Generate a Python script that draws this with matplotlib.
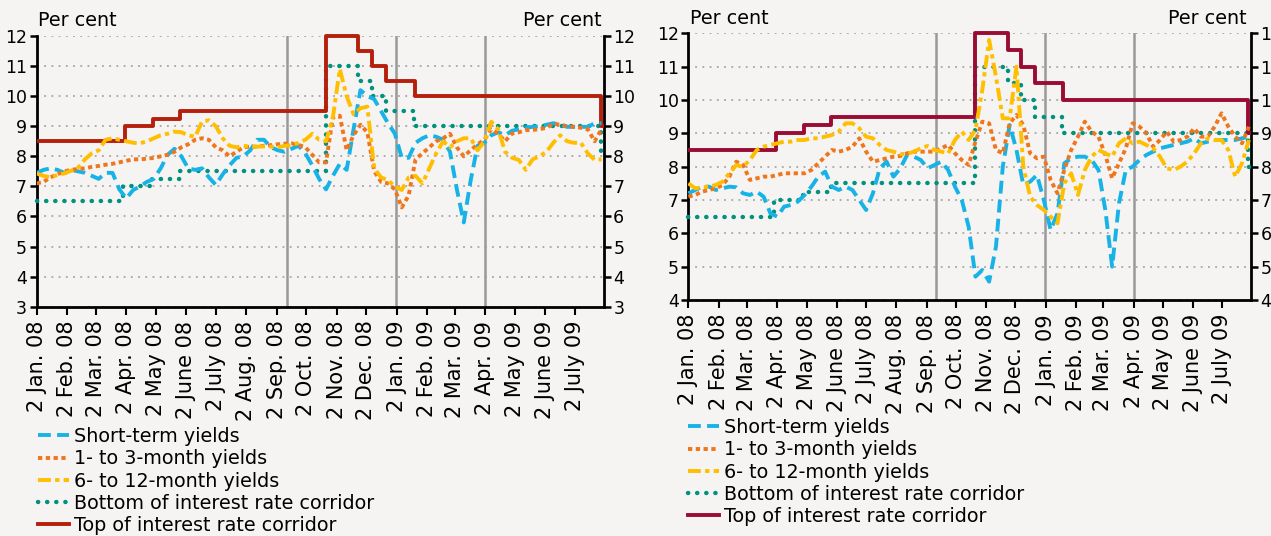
import matplotlib
matplotlib.use('Agg')
import matplotlib.pyplot as plt
import pandas as pd
from matplotlib.lines import Line2D

plt.rcParams['font.family'] = ['DejaVu Sans']

# ---------------- data ----------------
week_dates = pd.date_range('2008-01-02', periods=83, freq='7D')

left_short = [7.45, 7.55, 7.6, 7.55, 7.45, 7.55, 7.5, 7.45, 7.35, 7.25,
              7.45, 7.45, 6.9, 6.6, 6.88, 7.0, 7.15, 7.25, 7.6, 8.05,
              8.25, 8.0, 7.6, 7.55, 7.6, 7.3, 7.05, 7.4, 7.7, 7.95,
              8.0, 8.2, 8.55, 8.55, 8.3, 8.2, 8.15, 8.25, 8.35, 8.1,
              7.7, 7.25, 6.9, 7.35, 7.75, 7.55, 8.9, 10.2, 10.0, 9.9,
              9.5, 9.1, 8.75, 7.95, 7.95, 8.45, 8.6, 8.7, 8.65, 8.55,
              8.15, 6.9, 5.8, 7.2, 8.35, 8.45, 8.7, 8.8, 8.7, 8.85,
              8.9, 8.95, 8.98, 9.0, 9.05, 9.1, 9.05, 8.98, 8.98, 8.98,
              8.98, 9.1, 9.1]
left_mid = [7.1, 7.15, 7.3, 7.4, 7.5, 7.55, 7.58, 7.6, 7.65, 7.68,
            7.72, 7.75, 7.8, 7.85, 7.9, 7.9, 7.92, 7.95, 8.0, 8.05,
            8.15, 8.3, 8.4, 8.55, 8.6, 8.55, 8.3, 8.2, 8.0, 8.15,
            8.3, 8.32, 8.32, 8.35, 8.37, 8.4, 8.42, 8.43, 8.38, 8.3,
            8.05, 7.8, 7.8, 9.3, 9.35, 8.2, 8.7, 9.05, 8.8, 7.5,
            7.15, 7.1, 6.9, 6.3, 6.7, 7.9, 8.1, 8.3, 8.5, 8.6,
            8.75, 8.3, 8.0, 8.2, 8.4, 8.55, 8.9, 8.75, 8.5, 8.76,
            8.8, 8.87, 8.88, 8.9, 8.95, 9.08, 9.05, 9.0, 8.98, 8.95,
            8.9, 8.5, 8.9]
left_long = [7.43, 7.35, 7.3, 7.38, 7.43, 7.52, 7.62, 7.9, 8.1, 8.2,
             8.55, 8.6, 8.55, 8.5, 8.45, 8.43, 8.5, 8.6, 8.7, 8.75,
             8.82, 8.8, 8.7, 8.65, 9.15, 9.2, 9.0, 8.6, 8.35, 8.3,
             8.35, 8.32, 8.32, 8.33, 8.32, 8.3, 8.35, 8.37, 8.45, 8.55,
             8.75, 8.55, 8.5, 9.3, 10.9, 10.0, 9.4, 9.6, 9.65, 7.6,
             7.3, 7.2, 7.0, 6.88, 7.3, 7.35, 7.1, 7.6, 8.1, 8.5,
             8.3, 8.5, 8.6, 8.6, 8.2, 8.5, 9.15, 8.9, 8.15, 7.95,
             7.88, 7.55, 7.9, 8.0, 8.15, 8.45, 8.7, 8.5, 8.45, 8.45,
             8.1, 7.88, 7.9]

right_short = [7.2, 7.3, 7.4, 7.4, 7.3, 7.35, 7.4, 7.38, 7.2, 7.15,
               7.25, 7.1, 6.6, 6.5, 6.8, 6.85, 6.95, 7.15, 7.4, 7.7,
               7.85, 7.4, 7.3, 7.4, 7.3, 7.0, 6.7, 7.2, 7.95, 8.15,
               7.7, 7.95, 8.35, 8.3, 8.2, 7.95, 8.05, 8.15, 7.9, 7.4,
               7.0, 6.2, 4.7, 4.9, 4.55, 5.6, 8.0, 9.25, 8.5, 7.45,
               7.55, 7.75, 7.0, 6.1, 6.6, 8.1, 8.25, 8.3, 8.3, 8.2,
               7.9, 6.7, 5.0, 6.9, 7.9, 8.0, 8.2, 8.35, 8.45, 8.55,
               8.6, 8.65, 8.7, 8.75, 8.85, 8.7, 8.75, 8.8, 8.8, 8.8,
               8.8, 8.85, 8.9]
right_mid = [7.1, 7.15, 7.25, 7.3, 7.35, 7.45, 7.7, 8.15, 8.05, 7.6,
             7.65, 7.7, 7.7, 7.75, 7.8, 7.8, 7.8, 7.8, 7.9, 8.1,
             8.3, 8.5, 8.45, 8.5, 8.6, 8.85, 8.45, 8.15, 8.2, 8.25,
             8.3, 8.32, 8.4, 8.45, 8.45, 8.45, 8.45, 8.55, 8.65, 8.4,
             8.2, 8.05, 8.75, 9.35, 9.3, 8.5, 8.4, 9.3, 9.55, 9.25,
             8.4, 8.25, 8.3, 7.6, 7.2, 7.9, 8.5, 8.9, 9.35, 9.05,
             8.9, 8.35, 7.65, 8.1, 8.55, 9.3, 9.2, 9.0, 8.6, 8.8,
             9.05, 8.75, 8.8, 8.9, 9.15, 8.9, 8.9, 9.2, 9.6, 9.2,
             8.9, 8.7, 9.2]
right_long = [7.5, 7.35, 7.38, 7.4, 7.45, 7.55, 7.8, 8.05, 8.0, 8.2,
              8.5, 8.6, 8.65, 8.7, 8.75, 8.75, 8.8, 8.8, 8.85, 8.85,
              8.9, 8.95, 9.05, 9.3, 9.3, 9.15, 8.9, 8.85, 8.65, 8.5,
              8.45, 8.38, 8.38, 8.45, 8.55, 8.62, 8.5, 8.45, 8.4, 8.8,
              9.05, 8.8, 9.1, 10.3, 11.8, 10.7, 9.45, 9.45, 11.0, 8.0,
              7.1, 6.85, 6.7, 6.5, 6.3, 7.5, 7.8, 7.15, 7.9, 8.3,
              8.5, 8.4, 8.3, 8.7, 8.85, 8.7, 8.75, 8.65, 8.55, 8.3,
              7.95, 7.9, 8.0, 8.15, 8.4, 8.7, 8.85, 8.8, 8.8, 8.5,
              7.7, 8.1, 8.8]

bottom_dates = ['2008-01-02', '2008-03-30', '2008-04-28', '2008-05-27', '2008-10-22',
                '2008-11-24', '2008-12-08', '2008-12-22', '2009-01-19', '2009-07-28',
                '2009-07-31']
bottom_vals = [6.5, 7.0, 7.25, 7.5, 11.0, 10.5, 10.0, 9.5, 9.0, 8.0, 8.0]
top_dates = ['2008-01-02', '2008-04-01', '2008-04-29', '2008-05-27', '2008-10-22',
             '2008-11-24', '2008-12-08', '2008-12-22', '2009-01-20', '2009-07-28',
             '2009-07-31']
top_vals = [8.5, 9.0, 9.25, 9.5, 12.0, 11.5, 11.0, 10.5, 10.0, 9.0, 9.0]

event_dates = ['2008-09-12', '2009-01-01', '2009-04-02']

tick_dates = ['2008-01-02', '2008-02-02', '2008-03-02', '2008-04-02', '2008-05-02',
              '2008-06-02', '2008-07-02', '2008-08-02', '2008-09-02', '2008-10-02',
              '2008-11-02', '2008-12-02', '2009-01-02', '2009-02-02', '2009-03-02',
              '2009-04-02', '2009-05-02', '2009-06-02', '2009-07-02']
tick_labels = ['2 Jan. 08', '2 Feb. 08', '2 Mar. 08', '2 Apr. 08', '2 May 08',
               '2 June 08', '2 July 08', '2 Aug. 08', '2 Sep. 08', '2 Oct. 08',
               '2 Nov. 08', '2 Dec. 08', '2 Jan. 09', '2 Feb. 09', '2 Mar. 09',
               '2 Apr. 09', '2 May 09', '2 June 09', '2 July 09']

legend_labels = ['Short-term yields', '1- to 3-month yields', '6- to 12-month yields',
                 'Bottom of interest rate corridor', 'Top of interest rate corridor']

# ---------------- styles ----------------
BG = '#f5f4f2'
C_SHORT = '#17b3e6'
C_MID = '#f0761e'
C_LONG = '#ffbf00'
C_BOT = '#00917f'
LW = 2.8
st_short = dict(color=C_SHORT, lw=LW, linestyle=(0, (3.3, 1.6)))
st_mid = dict(color=C_MID, lw=LW, linestyle=(0, (1.1, 0.9)))
st_long = dict(color=C_LONG, lw=LW, linestyle=(0, (3.3, 1.1, 1.1, 1.1)))
st_bot = dict(color=C_BOT, lw=LW + 0.4, linestyle=(0, (0.05, 2.0)), dash_capstyle='round')

fig = plt.figure(figsize=(12.71, 5.36), dpi=100, facecolor=BG)
axL = fig.add_axes([36.7 / 1271, 1 - 306.7 / 536, (603.5 - 36.7) / 1271, (306.7 - 36) / 536])
axR = fig.add_axes([688.4 / 1271, 1 - 300 / 536, (1250.8 - 688.4) / 1271, (300 - 33.3) / 536])

tdates = pd.to_datetime(tick_dates)
bd = pd.to_datetime(bottom_dates)
td = pd.to_datetime(top_dates)


def draw(ax, short, mid, long_, top_color, ymin):
    ax.set_facecolor(BG)
    ax.set_xlim(pd.Timestamp('2008-01-02'), pd.Timestamp('2009-07-31'))
    ax.set_ylim(ymin, 12)
    ax.set_yticks(range(ymin, 13))
    ax.yaxis.grid(True, color='#a5a5a5', linestyle=(0, (1, 3)), lw=1.3, zorder=0)
    ax.set_axisbelow(True)
    for d in event_dates:
        ax.axvline(pd.Timestamp(d), color='#999999', lw=1.8, zorder=1)
    ax.plot(bd, bottom_vals, drawstyle='steps-post', zorder=3, clip_on=False, **st_bot)
    ax.plot(td, top_vals, drawstyle='steps-post', color=top_color, lw=LW, zorder=3,
            clip_on=False, solid_capstyle='butt')
    ax.plot(week_dates, short, zorder=4, **st_short)
    ax.plot(week_dates, mid, zorder=5, **st_mid)
    ax.plot(week_dates, long_, zorder=6, **st_long)
    ax.set_xticks(tdates)
    ax.set_xticklabels(tick_labels, rotation=90)
    for s in ['left', 'right', 'bottom']:
        ax.spines[s].set_linewidth(2.0)
        ax.spines[s].set_color('black')
    ax.spines['top'].set_visible(False)
    ax.tick_params(axis='y', direction='out', length=5, width=1.8, left=True, right=True,
                   labelleft=True, labelright=True, labelsize=12.5, pad=2)
    ax.tick_params(axis='x', direction='out', length=6, width=1.5, labelsize=15, pad=4)
    handles = [Line2D([], [], **st_short), Line2D([], [], **st_mid), Line2D([], [], **st_long),
               Line2D([], [], **st_bot), Line2D([], [], color=top_color, lw=LW)]
    return handles


hL = draw(axL, left_short, left_mid, left_long, '#b4200c', 3)
hR = draw(axR, right_short, right_mid, right_long, '#9a0c33', 4)

fig.text(38 / 1271, 1 - 20 / 536, 'Per cent', ha='left', va='center', fontsize=13.8)
fig.text(602 / 1271, 1 - 20 / 536, 'Per cent', ha='right', va='center', fontsize=13.8)
fig.text(690 / 1271, 1 - 18 / 536, 'Per cent', ha='left', va='center', fontsize=13.8)
fig.text(1247 / 1271, 1 - 18 / 536, 'Per cent', ha='right', va='center', fontsize=13.8)

legkw = dict(loc='upper left', frameon=False, fontsize=13.8, handlelength=1.6,
             handletextpad=0.3, labelspacing=0.17, borderpad=0, borderaxespad=0)
fig.legend(hL, legend_labels, bbox_to_anchor=(38 / 1271, 1 - 427 / 536), **legkw)
fig.legend(hR, legend_labels, bbox_to_anchor=(688 / 1271, 1 - 418 / 536), **legkw)

fig.savefig('out.png', dpi=100, facecolor=BG)
